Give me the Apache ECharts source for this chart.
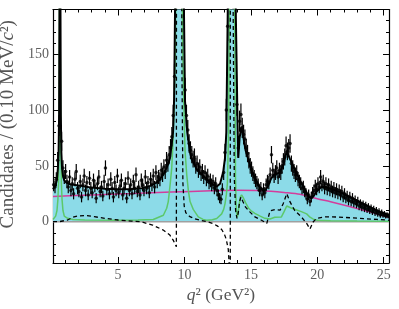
<!DOCTYPE html>
<html><head><meta charset="utf-8">
<script src="https://cdn.jsdelivr.net/npm/echarts@6/dist/echarts.min.js"></script>
<style>html,body{margin:0;padding:0;background:#fff}#c{width:399px;height:309px}</style>
</head><body><div id="c"></div>
<script>
// ---- data ----
const binStart = 0.1, binWidth = 0.1;
const counts = [
  33, 31, 38, 55, 86, 230, 72, 48, 40, 45,
  36, 31, 40, 28, 34, 25, 38, 45, 30, 27,
  36, 22, 33, 41, 28, 35, 24, 39, 30, 26,
  37, 32, 21, 34, 40, 27, 31, 23, 36, 48,
  29, 33, 25, 38, 30, 22, 35, 28, 41, 26,
  32, 37, 24, 30, 34, 21, 39, 28, 33, 25,
  36, 30, 42, 27, 31, 24, 37, 33, 28, 40,
  30, 35, 26, 38, 33, 41, 31, 44, 36, 40,
  38, 46, 42, 49, 45, 55, 52, 60, 66, 76,
  95, 130, 240, 600, 1500, 1800, 900, 400, 210, 118,
  95, 82, 70, 64, 60, 56, 58, 50, 52, 46,
  49, 43, 45, 40, 44, 38, 41, 35, 37, 33,
  36, 30, 34, 28, 24, 21, 20, 29, 44, 62,
  100, 175, 320, 800, 1500, 1200, 500, 200, 105, 66,
  90, 96, 84, 78, 74, 66, 61, 55, 50, 47,
  43, 40, 37, 35, 33, 28, 30, 24, 29, 26,
  33, 36, 35, 42, 60, 46, 41, 44, 48, 40,
  46, 44, 50, 54, 58, 68, 63, 66, 70, 52,
  48, 45, 42, 44, 38, 36, 34, 30, 31, 27,
  25, 20, 24, 18, 22, 26, 28, 32, 29, 34,
  31, 40, 33, 36, 30, 34, 29, 33, 28, 31,
  27, 30, 26, 29, 25, 28, 24, 27, 22, 25,
  21, 23, 19, 22, 18, 21, 17, 19, 16, 18,
  14, 16, 13, 15, 12, 14, 11, 13, 10, 12,
  9, 11, 8, 10, 7, 9, 6, 8, 6, 7,
  5, 6, 5
];
const fitCurve = [[0.1,29],[0.3,33],[0.4,38],[0.47,48],[0.52,62],[0.56,95],[0.59,200],[0.61,400],[0.64,400],[0.66,200],[0.69,95],[0.73,62],[0.78,48],[0.85,41],[0.95,37],[1.1,35],[1.4,33.5],[2,32.5],[2.5,31.5],[3,30.5],[4,29.5],[5,29],[6,29.2],[6.8,30],[7.4,32],[7.9,35],[8.16,38],[8.54,45],[8.78,52],[8.91,57],[9.04,70],[9.14,80],[9.22,110],[9.29,190],[9.4,500],[9.59,3000],[9.8,500],[9.96,190],[10.04,108],[10.21,80],[10.42,62],[10.54,56],[10.92,47],[11.42,41],[11.92,35.5],[12.2,33],[12.43,31.5],[12.68,34],[12.92,45],[13.05,57],[13.15,80],[13.26,190],[13.38,600],[13.59,3000],[13.78,600],[13.86,190],[13.98,100],[14.05,57],[14.15,75],[14.28,85],[14.4,78],[14.6,64],[14.8,56],[15.0,48],[15.3,39],[15.6,32],[15.9,28],[16.1,28.5],[16.3,32],[16.5,38],[16.7,42],[17.0,43],[17.2,44.5],[17.44,51],[17.7,63],[17.95,56],[18.3,47],[18.7,37],[19.07,29],[19.35,22.5],[19.55,21],[19.75,23.5],[19.95,27],[20.3,31],[20.7,31],[21.7,26.5],[22.7,20.7],[23.7,14.7],[24.7,8.8],[25.4,6]];
const nonResCurve = [[0.1,22.5],[3,24],[6,25.3],[9,26.6],[12,27.6],[14,28.1],[15.5,28],[16.5,27.3],[17.5,26.2],[18.7,24.5],[20,20.5],[21,17.8],[22.5,13.3],[23.5,10.2],[24.5,6.8],[25.4,3.8]];
const resCurve = [[0.1,2],[0.3,5],[0.4,10],[0.47,20],[0.52,35],[0.56,70],[0.6,250],[0.65,250],[0.69,70],[0.73,35],[0.78,20],[0.85,10],[0.95,5],[1.2,3],[1.6,2],[2.5,1.5],[5,1.3],[6.5,1.5],[7.65,2],[8.41,5.8],[8.66,12],[8.78,18],[8.91,32],[9.04,48],[9.11,65],[9.21,100],[9.31,150],[9.4,300],[9.59,5000],[9.78,300],[9.87,150],[9.96,100],[10.04,64],[10.17,42],[10.29,28],[10.42,18],[10.66,11],[11.04,4.3],[11.4,2],[11.67,1.3],[12.1,1.8],[12.43,2.8],[12.8,7],[12.95,11],[13.05,16],[13.15,24],[13.23,34],[13.32,80],[13.42,250],[13.59,5000],[13.76,250],[13.84,40],[13.9,12],[13.96,4],[14.02,6],[14.1,14],[14.2,22],[14.3,24],[14.4,22],[14.6,17],[14.83,12],[15.0,10],[15.3,7.5],[15.7,5],[16.06,3],[16.44,2.4],[16.8,4],[17.3,4.3],[17.5,9],[17.7,14],[18.07,12],[18.8,9],[19.2,7],[19.45,4],[19.7,2.2],[20,1.3],[21,0.8],[23,0.5],[25.4,0.3]];
const interfCurve = [[0.1,0],[0.55,0],[0.7,0.5],[1.0,1],[1.2,1.5],[1.6,4],[2.0,5.2],[2.6,5.5],[3.2,4.5],[4,3],[5,1.5],[6,0.5],[6.7,0],[7.6,-3],[8.4,-7.5],[8.9,-12],[9.15,-16.5],[9.39,-22.5],[9.47,3000],[9.76,3000],[9.8,150],[9.88,35],[9.98,14],[10.1,8],[10.4,4.5],[10.8,2.5],[11.3,1],[11.7,0],[12.2,-2],[12.5,-4],[12.8,-7],[13.0,-11],[13.15,-16],[13.3,-25],[13.4,-45],[13.44,-3000],[13.46,3000],[13.62,3000],[13.66,200],[13.75,40],[13.85,10],[13.95,3],[14.05,8],[14.15,18],[14.25,22],[14.4,18],[14.6,13],[14.9,9],[15.3,4.3],[15.8,1.3],[16.2,-1.5],[16.44,9.7],[16.8,10.9],[17.2,10.3],[17.44,16.3],[17.7,25],[17.95,17.7],[18.3,10],[18.8,4.3],[19.2,-1.5],[19.45,-6.5],[19.7,0],[19.95,3],[20.6,4.3],[21.5,4.2],[22.5,3.5],[23.5,2.7],[24.5,2],[25.4,1.3]];
const xMajorTicks = [5, 10, 15, 20, 25];
const xMinorTicks = [1,2,3,4,6,7,8,9,11,12,13,14,16,17,18,19,21,22,23,24];
const yMajorTicks = [0, 50, 100, 150];
const yMinorTicks = [-30,-20,-10,10,20,30,40,60,70,80,90,110,120,130,140,160,170,180];

// ---- chart ----
const X_MIN = 0.1, X_MAX = 25.4, Y_MIN = -37, Y_MAX = 190;
const FONT = 'Liberation Serif';
const points = counts.map((n, i) => [binStart + binWidth * (i + 0.5), n]);
const errs = counts.map((n, i) => [binStart + binWidth * (i + 0.5), n, n - Math.sqrt(n), n + Math.sqrt(n)]);

function xAx(pos, vals, len, label, line) {
  return {type:'value', min:X_MIN, max:X_MAX, position:pos,
    axisLine:{show:line, onZero:false, lineStyle:{color:'#000', width:1.2}},
    axisTick:{show:true, inside:true, length:len, customValues:vals, lineStyle:{color:'#000', width:1}},
    axisLabel:{show:label, customValues:vals, margin:5, color:'#606060', fontFamily:FONT, fontSize:14},
    splitLine:{show:false}};
}
function yAx(pos, vals, len, label, line) {
  return {type:'value', min:Y_MIN, max:Y_MAX, position:pos,
    axisLine:{show:line, onZero:false, lineStyle:{color:'#000', width:1.2}},
    axisTick:{show:true, inside:true, length:len, customValues:vals, lineStyle:{color:'#000', width:1}},
    axisLabel:{show:label, customValues:vals, margin:4, color:'#606060', fontFamily:FONT, fontSize:14},
    splitLine:{show:false}};
}
const xa0 = xAx('bottom', xMajorTicks, 6, true, true);
xa0.name = '{i|q}² (GeV²)';
xa0.nameLocation = 'middle';
xa0.nameGap = 15;
xa0.nameTextStyle = {fontFamily:FONT, fontSize:17.5, color:'#555', verticalAlign:'top',
  rich:{i:{fontFamily:FONT, fontSize:17.5, fontStyle:'italic', color:'#555'}}};
const ya0 = yAx('left', yMajorTicks, 6, true, true);
ya0.name = 'Candidates / (0.10 MeV/{i|c}²)';
ya0.nameLocation = 'middle';
ya0.nameGap = 23;
ya0.nameTextStyle = {fontFamily:FONT, fontSize:19, color:'#555', padding:[0,0,0,24],
  rich:{i:{fontFamily:FONT, fontSize:19, fontStyle:'italic', color:'#555'}}};

const chart = echarts.init(document.getElementById('c'), null, {renderer:'canvas'});
chart.setOption({
  animation:false,
  grid:{left:53, right:10, top:9.5, bottom:46, containLabel:false, outerBoundsMode:'none'},
  xAxis:[xa0, xAx('bottom', xMinorTicks, 3, false, false), xAx('top', xMajorTicks, 6, false, true), xAx('top', xMinorTicks, 3, false, false)],
  yAxis:[ya0, yAx('left', yMinorTicks, 3, false, false), yAx('right', yMajorTicks, 6, false, true), yAx('right', yMinorTicks, 3, false, false)],
  series:[
    {type:'line', data:fitCurve, symbol:'none', z:1, lineStyle:{width:0}, areaStyle:{color:'#8cdbe8', opacity:1, origin:0}},
    {type:'line', data:[[X_MIN,0],[X_MAX,0]], symbol:'none', z:2, lineStyle:{color:'#a0a0a0', width:1.5}},
    {type:'line', data:nonResCurve, symbol:'none', smooth:0.3, z:3, lineStyle:{color:'#d43d9c', width:1.5}},
    {type:'line', data:resCurve, symbol:'none', z:4, lineStyle:{color:'#5cc86a', width:1.5}},
    {type:'line', data:interfCurve, symbol:'none', z:5, lineStyle:{color:'#000', width:1.3, type:[4,3]}},
    {type:'custom', data:errs, z:6, renderItem:function(params, api){
      const x = api.value(0);
      let lo = Math.max(api.value(2), Y_MIN), hi = Math.min(api.value(3), Y_MAX);
      if (lo >= Y_MAX) return null;
      const p1 = api.coord([x, lo]), p2 = api.coord([x, hi]);
      return {type:'line', shape:{x1:p1[0], y1:p1[1], x2:p2[0], y2:p2[1]}, style:{stroke:'#000', lineWidth:1.2}};
    }},
    {type:'scatter', data:points, symbol:'circle', symbolSize:3.5, z:7, itemStyle:{color:'#000'}},
    {type:'line', data:fitCurve, symbol:'none', z:8, lineStyle:{color:'#000', width:2}}
  ]
});
</script></body></html>
